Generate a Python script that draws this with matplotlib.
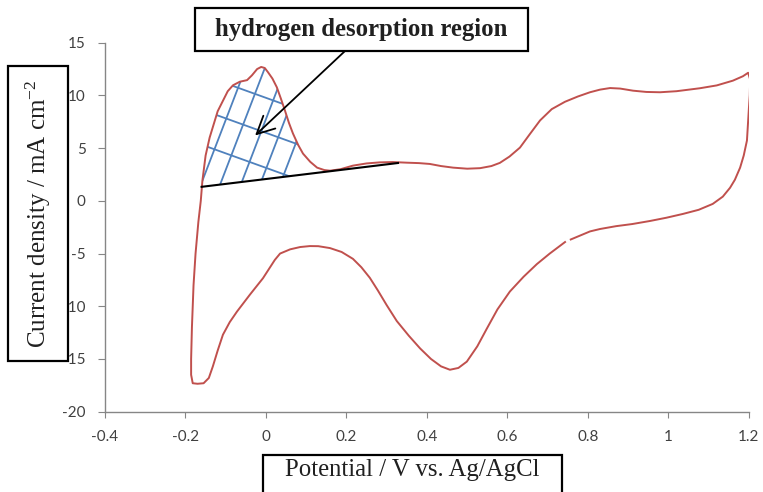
import matplotlib
matplotlib.use("Agg")
import matplotlib.pyplot as plt
import numpy as np
from matplotlib.patches import Polygon, Rectangle

SERIF = "Liberation Serif"
plt.rcParams["axes.unicode_minus"] = False
plt.rcParams["mathtext.fontset"] = "custom"
plt.rcParams["mathtext.rm"] = SERIF
plt.rcParams["mathtext.it"] = SERIF + ":italic"

# Cyclic voltammogram, one full loop (potential V, current density mA cm-2).
# Starts on the cathodic branch near 0.75 V and runs round to just before it.
potential = [
    0.745, 0.705, 0.673, 0.640, 0.606, 0.575, 0.549, 0.525, 0.499, 0.478,
    0.457, 0.435, 0.410, 0.383, 0.355, 0.325, 0.300, 0.278, 0.258, 0.237,
    0.216, 0.188, 0.159, 0.130, 0.109, 0.085, 0.060, 0.035, 0.022, 0.010,
    -0.0075, -0.040, -0.056, -0.072, -0.090, -0.107, -0.120, -0.132, -0.142, -0.155,
    -0.170, -0.182, -0.186, -0.186, -0.184, -0.180, -0.175, -0.168, -0.162, -0.158,
    -0.150, -0.140, -0.132, -0.120, -0.107, -0.095, -0.082, -0.065, -0.047, -0.035,
    -0.022, -0.012, -0.003, 0.005, 0.016, 0.027, 0.037, 0.047, 0.057, 0.067,
    0.080, 0.092, 0.110, 0.127, 0.145, 0.159, 0.185, 0.216, 0.250, 0.283,
    0.315, 0.350, 0.380, 0.407, 0.435, 0.465, 0.500, 0.532, 0.560, 0.581,
    0.605, 0.631, 0.655, 0.681, 0.710, 0.743, 0.775, 0.805, 0.830, 0.855,
    0.880, 0.912, 0.945, 0.979, 1.020, 1.078, 1.120, 1.160, 1.185, 1.198,
    1.203, 1.202, 1.200, 1.197, 1.195, 1.187, 1.178, 1.165, 1.153, 1.135,
    1.110, 1.075, 1.036, 0.995, 0.954, 0.910, 0.870, 0.830, 0.805, 0.780,
    0.755,
]
current = [
    -3.85, -5.0, -6.0, -7.2, -8.6, -10.3, -12.1, -13.8, -15.25, -15.85,
    -16.02, -15.7, -15.0, -14.0, -12.8, -11.4, -9.9, -8.5, -7.3, -6.3,
    -5.5, -4.85, -4.48, -4.3, -4.29, -4.38, -4.6, -5.0, -5.6, -6.3,
    -7.34, -8.9, -9.7, -10.5, -11.5, -12.7, -14.2, -15.7, -16.8, -17.3,
    -17.35, -17.3, -16.5, -15.0, -12.0, -8.0, -5.0, -2.0, 0.0, 1.9,
    4.3, 6.0, 7.0, 8.5, 9.5, 10.4, 10.96, 11.3, 11.45, 11.9,
    12.5, 12.7, 12.6, 12.2, 11.6, 10.77, 9.7, 8.58, 7.4, 6.39,
    5.3, 4.48, 3.7, 3.15, 2.92, 2.86, 3.0, 3.34, 3.55, 3.65,
    3.68, 3.62, 3.58, 3.5, 3.3, 3.15, 3.05, 3.1, 3.3, 3.6,
    4.2, 5.05, 6.3, 7.63, 8.7, 9.4, 9.9, 10.3, 10.55, 10.7,
    10.65, 10.45, 10.33, 10.30, 10.4, 10.68, 10.95, 11.4, 11.82, 12.15,
    11.5, 10.0, 8.87, 7.0, 5.72, 4.3, 3.15, 2.0, 1.24, 0.4,
    -0.29, -0.85, -1.24, -1.6, -1.91, -2.2, -2.4, -2.67, -2.9, -3.3,
    -3.7,
]

# Double-layer baseline under the H desorption peak
baseline_x = [-0.160, 0.328]
baseline_y = [1.33, 3.59]

# Hatched desorption area: right edge of the shaded part
hatch_right = 0.085
# Steep hatch lines, where they cross the baseline (V)
hatch_steep_x = [-0.164, -0.114, -0.060, -0.010, 0.042]
# Shallow hatch lines, their current at E = -0.04 V
hatch_shallow_y = [10.32, 7.0, 3.68]

arrow_tip = (-0.027, 6.2)
arrow_tail = (0.196, 14.2)

xticks = [-0.4, -0.2, 0, 0.2, 0.4, 0.6, 0.8, 1.0, 1.2]
yticks = [-20, -15, -10, -5, 0, 5, 10, 15]

RED = "#C0504D"
BLUE = "#4F81BD"
GREY = "#868686"

fig = plt.figure(figsize=(7.63, 4.92), dpi=100)
ax_rect = [0.1376, 0.1632, 0.8440, 0.7500]
ax = fig.add_axes(ax_rect)

ax.plot(potential, current, color=RED, linewidth=1.4, solid_capstyle="butt", zorder=3)

# baseline
ax.plot(baseline_x, baseline_y, color="black", linewidth=1.5, zorder=4)

base_slope = (baseline_y[1] - baseline_y[0]) / (baseline_x[1] - baseline_x[0])


def base_at(x):
    return baseline_y[0] + (x - baseline_x[0]) * base_slope


# clip region: anodic hump above the baseline, cut at hatch_right
pts = [(e, i) for e, i in zip(potential[48:72], current[48:72])
       if e <= hatch_right and i >= base_at(e)]
pts.append((hatch_right - 0.008, base_at(hatch_right - 0.008)))
pts.append((baseline_x[0], baseline_y[0]))
clip = Polygon(pts, closed=True, facecolor="none", edgecolor="none", transform=ax.transData)
ax.add_patch(clip)

# pixels per data unit on each axis, so hatch angles are in screen terms
sx = ax_rect[2] * 763 / 1.6
sy = ax_rect[3] * 492 / 35.0
steep = np.radians(69)
t = np.array([-80.0, 220.0])
for x0 in hatch_steep_x:
    ln, = ax.plot(x0 + t * np.cos(steep) / sx, base_at(x0) + t * np.sin(steep) / sy,
                  color=BLUE, linewidth=1.3, zorder=2)
    ln.set_clip_path(clip)
shallow = -0.36 * sx / sy
u = np.array([-0.3, 0.3])
for y0 in hatch_shallow_y:
    ln, = ax.plot(-0.04 + u, y0 + shallow * u, color=BLUE, linewidth=1.3, zorder=2)
    ln.set_clip_path(clip)

ax.annotate("", xy=arrow_tip, xytext=arrow_tail,
            arrowprops=dict(arrowstyle="->,head_length=0.7,head_width=0.35",
                            color="black", lw=1.3, mutation_scale=18, shrinkA=0, shrinkB=0),
            zorder=5)

ax.set_xlim(-0.4, 1.2)
ax.set_ylim(-20, 15)
ax.set_xticks(xticks)
ax.set_yticks(yticks)
ax.set_xticklabels([f"{v:g}" for v in xticks])
ax.set_yticklabels([f"{v:g}" for v in yticks])
for side in ("top", "right"):
    ax.spines[side].set_visible(False)
for side in ("left", "bottom"):
    ax.spines[side].set_color(GREY)
    ax.spines[side].set_linewidth(1.0)
ax.tick_params(axis="both", direction="out", color=GREY, labelcolor="#404040",
               labelsize=11)
ax.tick_params(axis="y", length=5, pad=9)
ax.tick_params(axis="x", length=4, pad=9)
for lab in ax.get_xticklabels() + ax.get_yticklabels():
    lab.set_family("Lato")

# boxed labels drawn on the figure, over the axes
boxes = [
    (0.0105, 0.2663, 0.0786, 0.5996),
    (0.3447, -0.05, 0.3919, 0.1252),
    (0.2556, 0.8963, 0.4364, 0.0874),
]
for x0, y0, w, h in boxes:
    fig.add_artist(Rectangle((x0, y0), w, h, transform=fig.transFigure,
                             facecolor="white", edgecolor="black", linewidth=1.6))

fig.text(0.0498, 0.566, r"Current density / mA cm$^{-2}$", rotation=90,
         ha="center", va="center", fontsize=18, family=SERIF, color="#202020")
fig.text(0.5406, 0.0447, "Potential / V vs. Ag/AgCl", ha="center", va="center",
         fontsize=17.8, family=SERIF, color="#202020")
fig.text(0.4738, 0.94, "hydrogen desorption region", ha="center", va="center",
         fontsize=17.8, family=SERIF, weight="bold", color="#202020")

fig.savefig("out.png", dpi=100)
